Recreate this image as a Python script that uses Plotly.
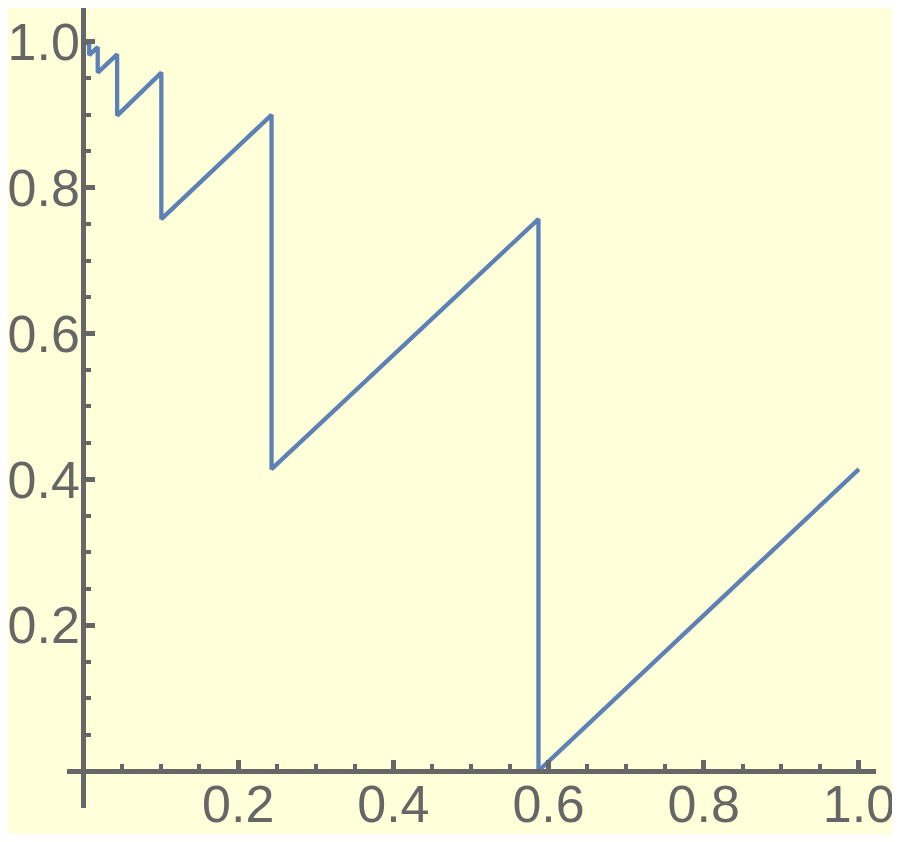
import plotly.graph_objects as go

# vertices of the sawtooth
x_vals = [0.003, 0.008, 0.008, 0.019, 0.019, 0.044, 0.044, 0.101, 0.101,
          0.243, 0.243, 0.587, 0.587, 1.0]
y_vals = [0.998, 1.0, 0.982, 0.993, 0.958, 0.983, 0.899, 0.958, 0.757,
          0.900, 0.414, 0.757, 0.0, 0.414]

major_ticks = [0.2, 0.4, 0.6, 0.8, 1.0]
major_labels = ["0.2", "0.4", "0.6", "0.8", "1.0"]
x_minor = [0.05, 0.1, 0.15, 0.25, 0.3, 0.35, 0.45, 0.5, 0.55, 0.65, 0.7, 0.75,
           0.85, 0.9, 0.95]
y_minor = [-0.05, 0.05, 0.1, 0.15, 0.25, 0.3, 0.35, 0.45, 0.5, 0.55, 0.65,
           0.7, 0.75, 0.85, 0.9, 0.95, 1.05]

x_range = [-0.0206, 1.022]
y_range = [-0.0508, 1.0466]

axis_col = "#666666"
bg = "#FFFFDA"

fig = go.Figure()
fig.add_trace(go.Scatter(x=x_vals, y=y_vals, mode="lines",
                         line=dict(color="#5E81B5", width=4.3),
                         hoverinfo="skip", showlegend=False))

tick_font = dict(family="Liberation Sans, Arial, sans-serif", size=52, color=axis_col)

# page body keeps its 8px margin, so the figure is sized to fit inside it
fig.update_layout(
    width=892, height=826,
    margin=dict(l=59, r=24, t=0, b=26),
    paper_bgcolor=bg, plot_bgcolor=bg,
    showlegend=False,
    xaxis=dict(
        range=x_range, domain=[0, 1], anchor="free",
        position=(0 - y_range[0]) / (y_range[1] - y_range[0]),
        showgrid=False, zeroline=False,
        showline=True, linecolor=axis_col, linewidth=4.5,
        tickvals=major_ticks, ticktext=major_labels,
        ticks="inside", ticklen=9, tickwidth=5, tickcolor=axis_col,
        tickfont=tick_font, ticklabelstandoff=-14, ticklabeloverflow="allow",
        minor=dict(tickvals=x_minor, ticks="inside", ticklen=5, tickwidth=4,
                   tickcolor=axis_col),
        automargin=False, fixedrange=True,
    ),
    yaxis=dict(
        range=y_range, domain=[0, 1], anchor="free",
        position=(0 - x_range[0]) / (x_range[1] - x_range[0]),
        showgrid=False, zeroline=False,
        showline=True, linecolor=axis_col, linewidth=4.5,
        tickvals=major_ticks, ticktext=major_labels,
        ticks="inside", ticklen=9, tickwidth=5, tickcolor=axis_col,
        tickfont=tick_font, ticklabelstandoff=-9, ticklabeloverflow="allow",
        minor=dict(tickvals=y_minor, ticks="inside", ticklen=5, tickwidth=4,
                   tickcolor=axis_col),
        automargin=False, fixedrange=True,
    ),
)

fig.write_html("out.html")
